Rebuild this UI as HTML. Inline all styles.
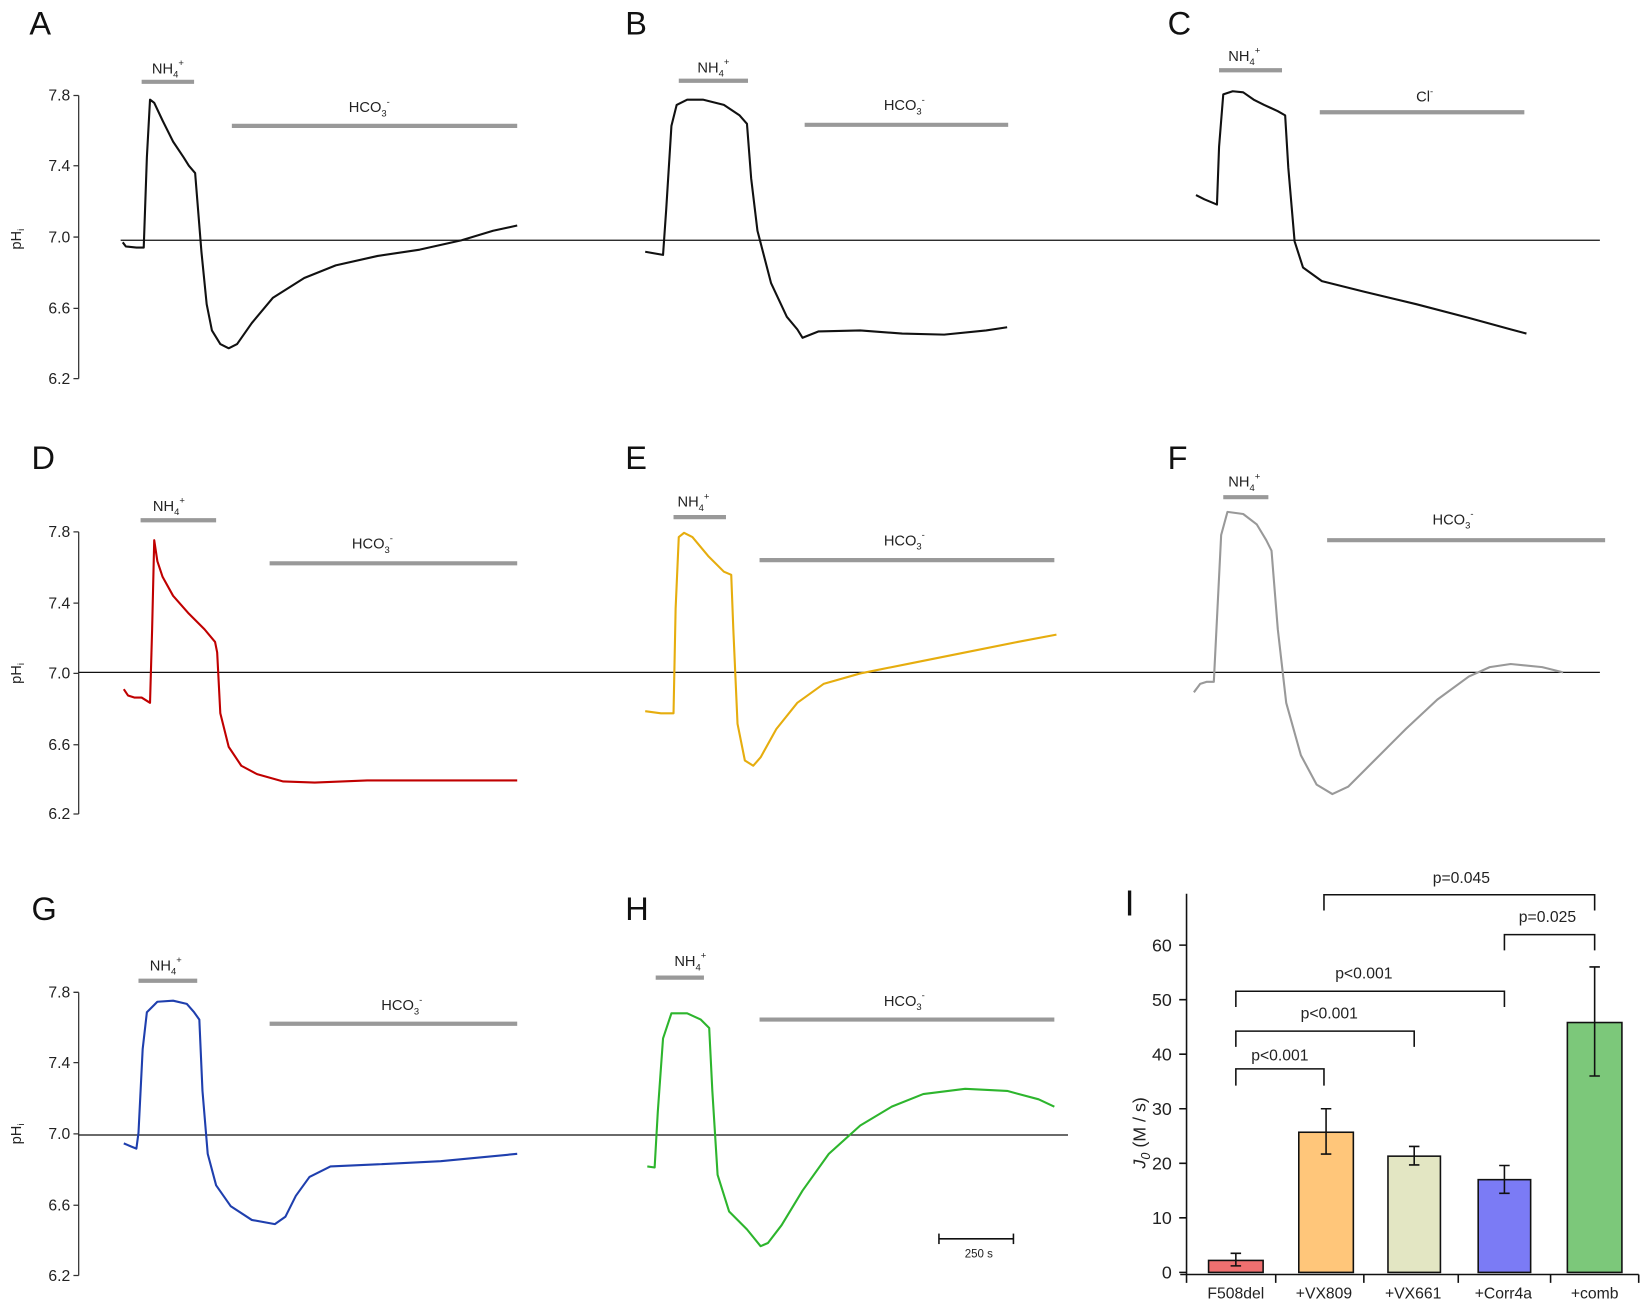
<!DOCTYPE html>
<html><head><meta charset="utf-8"><style>html,body{margin:0;padding:0;background:#fff}svg{display:block}</style></head>
<body>
<svg width="1645" height="1307" viewBox="0 0 1568 1246" preserveAspectRatio="none" xmlns="http://www.w3.org/2000/svg" font-family="Liberation Sans, sans-serif">
<rect width="1568" height="1246" fill="#fff"/>
<g font-size="31" fill="#111">
<text x="28" y="33">A</text><text x="596" y="33">B</text><text x="1113" y="33">C</text>
<text x="30" y="447">D</text><text x="596" y="447">E</text><text x="1113" y="447">F</text>
<text x="30" y="877">G</text><text x="596" y="877">H</text><text x="1072" y="873" font-size="34">I</text>
</g>
<!-- pH axes -->
<g stroke="#333" stroke-width="1.2" fill="none">
<path d="M75,91V361 M70,91H75 M70,158H75 M70,226H75 M70,294H75 M70,361H75"/>
<path d="M75,507V776 M70,507H75 M70,575H75 M70,642H75 M70,710H75 M70,776H75"/>
<path d="M75,946V1216 M70,946H75 M70,1013H75 M70,1081H75 M70,1149H75 M70,1216H75"/>
</g>
<g font-size="15" fill="#222" text-anchor="end">
<text x="67" y="96">7.8</text><text x="67" y="163">7.4</text><text x="67" y="231">7.0</text><text x="67" y="299">6.6</text><text x="67" y="366">6.2</text>
<text x="67" y="512">7.8</text><text x="67" y="580">7.4</text><text x="67" y="647">7.0</text><text x="67" y="715">6.6</text><text x="67" y="781">6.2</text>
<text x="67" y="951">7.8</text><text x="67" y="1018">7.4</text><text x="67" y="1086">7.0</text><text x="67" y="1154">6.6</text><text x="67" y="1221">6.2</text>
</g>
<g font-size="14" fill="#222">
<text transform="translate(20,238) rotate(-90)">pH<tspan font-size="9" dy="3">i</tspan></text>
<text transform="translate(20,652) rotate(-90)">pH<tspan font-size="9" dy="3">i</tspan></text>
<text transform="translate(20,1091) rotate(-90)">pH<tspan font-size="9" dy="3">i</tspan></text>
</g>
<!-- reference lines -->
<g stroke="#111" stroke-width="1.2">
<line x1="115" y1="229" x2="1525" y2="229"/>
<line x1="75" y1="641" x2="1525" y2="641"/>
<line x1="75" y1="1082" x2="1018" y2="1082"/>
</g>
<!-- bars -->
<g stroke="#999" stroke-width="4">
<line x1="135" y1="78" x2="185" y2="78"/><line x1="221" y1="120" x2="493" y2="120"/>
<line x1="647" y1="77" x2="713" y2="77"/><line x1="767" y1="119" x2="961" y2="119"/>
<line x1="1162" y1="67" x2="1222" y2="67"/><line x1="1258" y1="107" x2="1453" y2="107"/>
<line x1="134" y1="496" x2="206" y2="496"/><line x1="257" y1="537" x2="493" y2="537"/>
<line x1="642" y1="493" x2="692" y2="493"/><line x1="724" y1="534" x2="1005" y2="534"/>
<line x1="1166" y1="474" x2="1209" y2="474"/><line x1="1265" y1="515" x2="1530" y2="515"/>
<line x1="132" y1="935" x2="188" y2="935"/><line x1="257" y1="976" x2="493" y2="976"/>
<line x1="625" y1="932" x2="671" y2="932"/><line x1="724" y1="972" x2="1005" y2="972"/>
</g>
<g font-size="14" fill="#222" text-anchor="middle">
<text x="160" y="70">NH<tspan font-size="9" dy="4">4</tspan><tspan font-size="9" dy="-11">+</tspan></text>
<text x="352" y="107">HCO<tspan font-size="9" dy="4">3</tspan><tspan font-size="9" dy="-11">-</tspan></text>
<text x="680" y="69">NH<tspan font-size="9" dy="4">4</tspan><tspan font-size="9" dy="-11">+</tspan></text>
<text x="862" y="105">HCO<tspan font-size="9" dy="4">3</tspan><tspan font-size="9" dy="-11">-</tspan></text>
<text x="1186" y="58">NH<tspan font-size="9" dy="4">4</tspan><tspan font-size="9" dy="-11">+</tspan></text>
<text x="1358" y="97">Cl<tspan font-size="9" dy="-7">-</tspan></text>
<text x="161" y="487">NH<tspan font-size="9" dy="4">4</tspan><tspan font-size="9" dy="-11">+</tspan></text>
<text x="355" y="523">HCO<tspan font-size="9" dy="4">3</tspan><tspan font-size="9" dy="-11">-</tspan></text>
<text x="661" y="483">NH<tspan font-size="9" dy="4">4</tspan><tspan font-size="9" dy="-11">+</tspan></text>
<text x="862" y="520">HCO<tspan font-size="9" dy="4">3</tspan><tspan font-size="9" dy="-11">-</tspan></text>
<text x="1186" y="464">NH<tspan font-size="9" dy="4">4</tspan><tspan font-size="9" dy="-11">+</tspan></text>
<text x="1385" y="500">HCO<tspan font-size="9" dy="4">3</tspan><tspan font-size="9" dy="-11">-</tspan></text>
<text x="158" y="925">NH<tspan font-size="9" dy="4">4</tspan><tspan font-size="9" dy="-11">+</tspan></text>
<text x="383" y="963">HCO<tspan font-size="9" dy="4">3</tspan><tspan font-size="9" dy="-11">-</tspan></text>
<text x="658" y="921">NH<tspan font-size="9" dy="4">4</tspan><tspan font-size="9" dy="-11">+</tspan></text>
<text x="862" y="959">HCO<tspan font-size="9" dy="4">3</tspan><tspan font-size="9" dy="-11">-</tspan></text>
</g>
<!-- traces -->
<g fill="none" stroke-width="2" stroke-linejoin="round">
<polyline stroke="#111" points="117,231 120,235 130,236 137,236 140,150 143,95 147,98 155,115 165,135 175,150 180,158 186,165 188,190 192,240 197,290 202,315 210,328 218,332 226,328 240,308 260,284 290,265 320,253 360,244 400,238 440,229 470,220 493,215"/>
<polyline stroke="#111" points="615,240 632,243 635,200 640,120 645,100 655,95 670,95 690,100 705,110 712,118 716,170 722,220 735,270 750,302 760,314 765,322 780,316 820,315 860,318 900,319 940,315 960,312"/>
<polyline stroke="#111" points="1140,186 1148,190 1160,195 1162,140 1166,90 1175,87 1185,88 1195,95 1205,100 1218,106 1225,110 1228,160 1234,230 1242,255 1260,268 1300,278 1350,290 1400,303 1440,314 1455,318"/>
<polyline stroke="#c00000" points="118,657 122,663 128,665 135,665 143,670 145,600 147,515 150,535 155,550 165,568 180,585 195,600 205,612 207,622 210,680 218,712 230,730 245,738 270,745 300,746 350,744 400,744 493,744"/>
<polyline stroke="#e6ad0e" points="615,678 630,680 642,680 644,580 647,512 652,508 660,512 675,530 690,545 697,548 699,600 703,690 710,725 718,730 725,722 740,695 760,670 785,652 820,642 870,632 920,622 970,612 1007,605"/>
<polyline stroke="#999" points="1138,660 1144,652 1150,650 1157,650 1160,590 1164,510 1170,488 1185,490 1198,500 1207,515 1212,525 1218,600 1226,670 1240,720 1255,748 1270,757 1285,750 1310,725 1340,695 1370,667 1400,645 1420,636 1440,633 1470,636 1490,641"/>
<polyline stroke="#1f3fae" points="118,1090 125,1093 130,1095 132,1080 136,1000 140,965 150,955 165,954 178,957 185,965 190,972 193,1040 198,1100 206,1130 220,1150 240,1163 262,1167 272,1160 282,1140 295,1122 315,1112 360,1110 420,1107 493,1100"/>
<polyline stroke="#2db52d" points="617,1112 624,1113 627,1060 632,990 640,966 655,966 668,972 676,980 679,1040 684,1120 695,1155 712,1172 725,1188 732,1185 745,1168 765,1135 790,1100 820,1073 850,1055 880,1043 920,1038 960,1040 990,1048 1005,1055"/>
</g>
<!-- scale bar -->
<g stroke="#111" stroke-width="1.5"><line x1="895" y1="1181" x2="966" y2="1181"/><line x1="895" y1="1176" x2="895" y2="1186"/><line x1="966" y1="1176" x2="966" y2="1186"/></g>
<text x="933" y="1199" font-size="11" text-anchor="middle" fill="#222">250 s</text>
<!-- Panel I -->
<g fill="none" stroke="#111" stroke-width="1.5">
<path d="M1131,852V1215 M1125,1215H1562"/>
<path d="M1124,1213H1131 M1124,1161H1131 M1124,1109H1131 M1124,1057H1131 M1124,1005H1131 M1124,953H1131 M1124,901H1131"/>
<path d="M1131,1215V1223 M1216,1215V1223 M1300,1215V1223 M1390,1215V1223 M1478,1215V1223 M1562,1215V1223"/>
</g>
<g font-size="17" fill="#222" text-anchor="end">
<text x="1117" y="1219">0</text><text x="1117" y="1167">10</text><text x="1117" y="1115">20</text><text x="1117" y="1063">30</text><text x="1117" y="1011">40</text><text x="1117" y="959">50</text><text x="1117" y="907">60</text>
</g>
<text transform="translate(1092,1080) rotate(-90)" font-size="17" fill="#222" text-anchor="middle"><tspan font-style="italic">J<tspan font-size="12" dy="4">0</tspan></tspan><tspan dy="-4"> (M / s)</tspan></text>
<g stroke="#111" stroke-width="1.5">
<rect x="1152" y="1201.6" width="52" height="11.4" fill="#f07070"/>
<rect x="1238" y="1079.4" width="52" height="133.6" fill="#ffc67a"/>
<rect x="1323" y="1102.2" width="50" height="110.8" fill="#e3e6c3"/>
<rect x="1409" y="1124.6" width="50" height="88.4" fill="#7b7bf5"/>
<rect x="1494" y="974.8" width="52" height="238.2" fill="#7cc87a"/>
<path fill="none" d="M1178,1206.8V1194.8 M1173,1206.8H1183 M1173,1194.8H1183
M1264,1100.2V1057 M1259,1100.2H1269 M1259,1057H1269
M1348,1110.6V1092.9 M1343,1110.6H1353 M1343,1092.9H1353
M1434,1137.6V1111.1 M1429,1137.6H1439 M1429,1111.1H1439
M1520,1025.8V921.8 M1515,1025.8H1525 M1515,921.8H1525"/>
<path fill="none" d="M1178,1035V1019H1262V1035 M1178,998V983H1348V998 M1178,960V945H1434V960 M1434,906V891H1520V906 M1262,868V853H1520V868"/>
</g>
<g font-size="15" fill="#222" text-anchor="middle">
<text x="1220" y="1011">p&lt;0.001</text><text x="1267" y="971">p&lt;0.001</text><text x="1300" y="933">p&lt;0.001</text>
<text x="1475" y="879">p=0.025</text><text x="1393" y="842">p=0.045</text>
<text x="1178" y="1238">F508del</text><text x="1262" y="1238">+VX809</text><text x="1347" y="1238">+VX661</text><text x="1433" y="1238">+Corr4a</text><text x="1520" y="1238">+comb</text>
</g>
</svg>
</body></html>
